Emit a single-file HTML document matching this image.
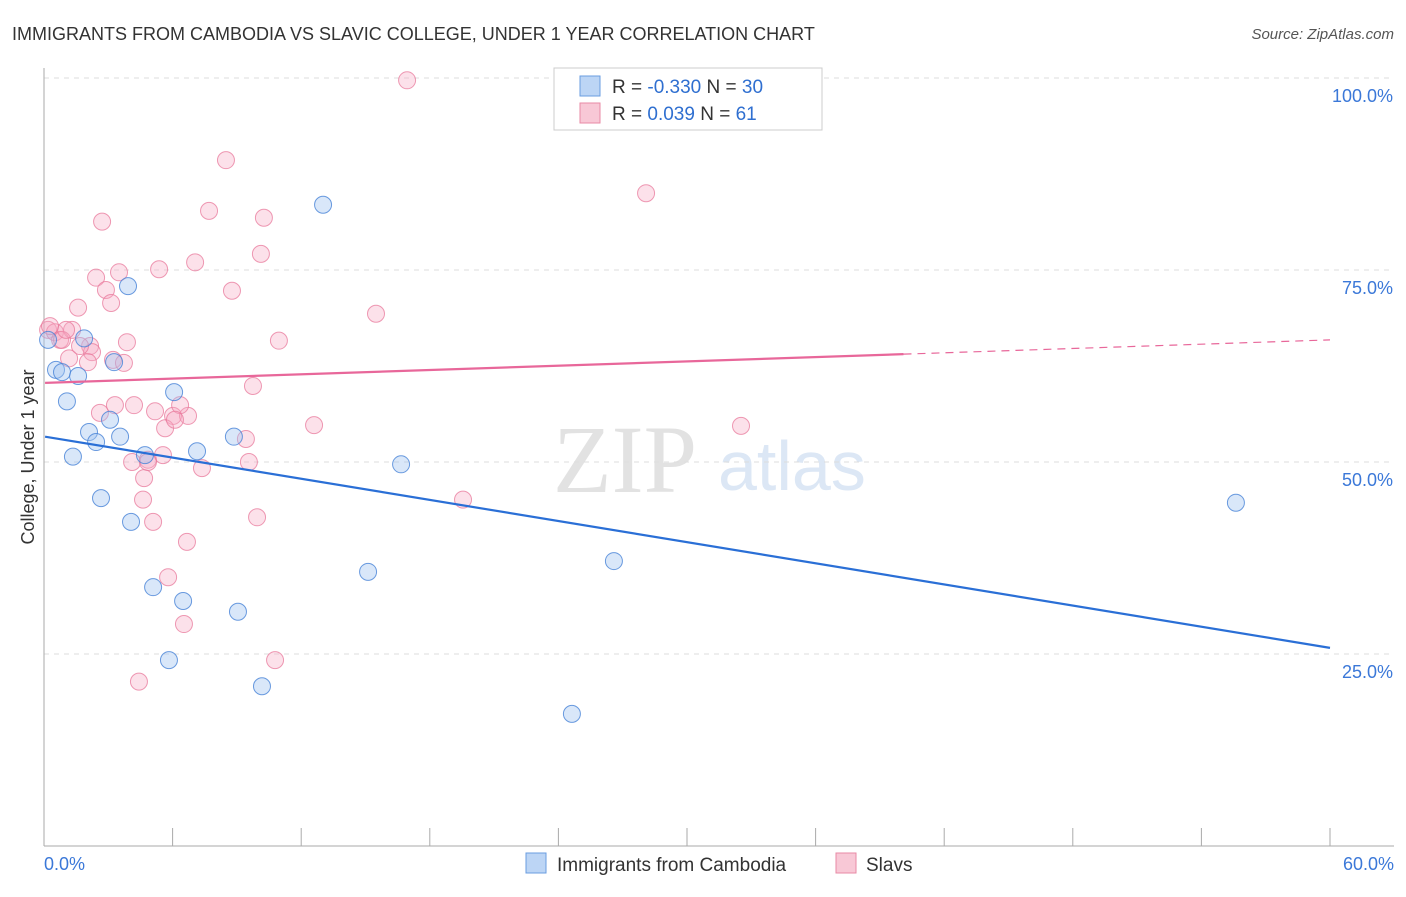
<!DOCTYPE html>
<html><head><meta charset="utf-8"><style>
body{margin:0;background:#fff;font-family:"Liberation Sans",sans-serif;}
svg text{font-family:"Liberation Sans",sans-serif;}
</style></head><body>
<svg id="chart" width="1406" height="892" xmlns="http://www.w3.org/2000/svg">
<text x="12" y="40" font-size="18" fill="#333">IMMIGRANTS FROM CAMBODIA VS SLAVIC COLLEGE, UNDER 1 YEAR CORRELATION CHART</text>
<text x="1394" y="39" font-size="15" fill="#555" text-anchor="end" font-style="italic">Source: ZipAtlas.com</text>
<text x="553" y="492" font-size="96" fill="#e2e2e2" font-family="Liberation Serif" style="font-family:'Liberation Serif',serif">ZIP</text>
<text x="718" y="490" font-size="70" fill="#dce7f5">atlas</text>
<g id="grid"></g>
<g id="axes"></g>
<g id="pts"></g>
<g id="trends"></g>
<text transform="translate(34,457) rotate(-90)" font-size="18" fill="#333" text-anchor="middle">College, Under 1 year</text>
<g>
<rect x="554" y="68" width="268" height="62" fill="#fff" stroke="#ccc"/>
<rect x="580" y="76" width="20" height="20" fill="#bcd5f5" stroke="#6a9de0"/>
<text x="612" y="93" font-size="19" fill="#333">R = <tspan fill="#2f6fd0">-0.330</tspan>   N = <tspan fill="#2f6fd0">30</tspan></text>
<rect x="580" y="103" width="20" height="20" fill="#f8c8d6" stroke="#e88aa5"/>
<text x="612" y="120" font-size="19" fill="#333">R =  <tspan fill="#2f6fd0"> 0.039</tspan>   N =  <tspan fill="#2f6fd0"> 61</tspan></text>
</g>
<g>
<rect x="526" y="853" width="20" height="20" fill="#bcd5f5" stroke="#6a9de0"/>
<text x="557" y="871" font-size="19" fill="#333">Immigrants from Cambodia</text>
<rect x="836" y="853" width="20" height="20" fill="#f8c8d6" stroke="#e88aa5"/>
<text x="866" y="871" font-size="19" fill="#333">Slavs</text>
</g>
</svg>
<script>
const blueX=[13.02,3.92,1.87,0.56,0.84,1.59,3.27,6.07,1.07,2.10,2.43,3.55,3.08,1.35,4.71,7.14,8.86,16.66,2.66,4.06,5.09,6.49,9.05,15.12,26.59,55.61,5.83,10.17,24.63,0.19];
const blueY=[83.5,72.9,66.1,62.0,61.7,61.2,63.0,59.1,57.9,53.9,52.6,53.3,55.5,50.7,50.9,51.4,53.3,49.7,45.3,42.2,33.7,31.9,30.5,35.7,37.1,44.7,24.2,20.8,17.2,65.9];
const pinkX=[16.94,8.49,28.09,2.71,7.70,10.26,10.12,5.37,7.05,2.43,3.50,2.89,8.77,3.13,1.59,15.49,10.96,3.87,0.19,0.51,0.75,1.31,2.15,2.24,1.17,3.22,3.73,9.75,2.61,3.31,4.20,5.18,6.02,6.72,6.35,5.65,12.60,32.52,9.42,4.11,4.85,5.55,9.56,7.37,4.67,4.62,19.55,9.94,5.09,6.67,5.79,6.53,10.78,4.43,0.84,1.03,1.68,0.28,2.05,4.85,6.11];
const pinkY=[99.7,89.3,85.0,81.3,82.7,81.8,77.1,75.1,76.0,74.0,74.7,72.4,72.3,70.7,70.1,69.3,65.8,65.6,67.2,66.9,65.9,67.2,65.1,64.3,63.5,63.3,62.9,59.9,56.4,57.4,57.4,56.6,56.0,56.0,57.4,54.4,54.8,54.7,53.0,50.0,50.3,50.9,50.0,49.2,47.9,45.1,45.1,42.8,42.2,39.6,35.0,28.9,24.2,21.4,65.9,67.2,65.1,67.7,63.0,50.0,55.5];
const yTicks=[25,50,75,100];
const yTickLabels=["25.0%","50.0%","75.0%","100.0%"];
const xTicks=[0,6,12,18,24,30,36,42,48,54,60];
const blueTrend=[53.3,25.8];
const pinkTrend=[60.3,65.9];
const pinkSolidEnd=40.1;
const NS="http://www.w3.org/2000/svg";
const sx=v=>44+v/60*1286;
const sy=v=>846-v/100*768;
function mk(tag,attrs,parent){const e=document.createElementNS(NS,tag);for(const k in attrs)e.setAttribute(k,attrs[k]);parent.appendChild(e);return e;}
const grid=document.getElementById('grid'),axes=document.getElementById('axes'),pts=document.getElementById('pts'),tr=document.getElementById('trends');
yTicks.forEach((t,i)=>{
 const l=mk('line',{x1:44,x2:1394,y1:sy(t),y2:sy(t),stroke:'#ddd','stroke-dasharray':'5,5'},grid);
 
 
 const tx=mk('text',{x:1393,y:sy(t)+24,'font-size':18,fill:'#3b78d8','text-anchor':'end'},grid);
 tx.textContent=yTickLabels[i];
 
 
});
const ya=mk('line',{x1:44,x2:44,y1:68,y2:846,stroke:'#aaa'},axes);


const xa=mk('line',{x1:44,x2:1394,y1:846,y2:846,stroke:'#aaa'},axes);


xTicks.forEach(t=>{
 const l=mk('line',{x1:sx(t),x2:sx(t),y1:828,y2:846,stroke:'#aaa'},axes);
 
 
});
const x0=mk('text',{x:44,y:870,'font-size':18,fill:'#3b78d8'},axes);x0.textContent='0.0%';


const x1=mk('text',{x:1394,y:870,'font-size':18,fill:'#3b78d8','text-anchor':'end'},axes);x1.textContent='60.0%';


pinkX.forEach((x,i)=>{
 const c=mk('circle',{cx:sx(x),cy:sy(pinkY[i]),r:8.5,fill:'rgba(245,170,195,0.35)',stroke:'rgba(232,120,155,0.75)','stroke-width':1},pts);
 
 
});
blueX.forEach((x,i)=>{
 const c=mk('circle',{cx:sx(x),cy:sy(blueY[i]),r:8.5,fill:'rgba(160,195,240,0.4)',stroke:'rgba(70,130,215,0.8)','stroke-width':1},pts);
 
 
});
const pAt=x=>pinkTrend[0]+(pinkTrend[1]-pinkTrend[0])*x/60;
const bl=mk('line',{x1:sx(0.05),y1:sy(blueTrend[0]),x2:sx(60),y2:sy(blueTrend[1]),stroke:'#2a6fd6','stroke-width':2.2},tr);


const pl=mk('line',{x1:sx(0.05),y1:sy(pAt(0)),x2:sx(pinkSolidEnd),y2:sy(pAt(pinkSolidEnd)),stroke:'#e8679a','stroke-width':2.2},tr);


const pd=mk('line',{x1:sx(pinkSolidEnd),y1:sy(pAt(pinkSolidEnd)),x2:sx(60),y2:sy(pAt(60)),stroke:'#e8679a','stroke-width':1.2,'stroke-dasharray':'8,6'},tr);


</script>
</body></html>
